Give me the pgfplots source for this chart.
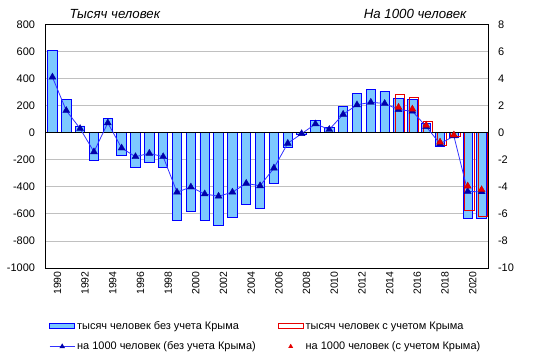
\documentclass[border=0pt]{standalone}
\usepackage{pgfplots}
\pgfplotsset{compat=1.18}
\usepackage{pgfplotstable}
\usepackage{fontspec}
\setmainfont{Liberation Sans}
\definecolor{barfill}{RGB}{125,200,255}
\definecolor{barline}{RGB}{0,0,255}
\definecolor{linec}{RGB}{50,50,255}
\definecolor{markb}{RGB}{0,0,170}
\definecolor{redc}{RGB}{230,0,0}
\definecolor{gridc}{RGB}{192,192,192}

\pgfplotsset{
  midmarklegend/.style={legend image code/.code={\draw[mark repeat=2, mark phase=2, ##1] plot coordinates {(0bp,0bp) (12.5bp,0bp) (25bp,0bp)};}},
  bluebarlegend/.style={legend image code/.code={\draw[fill=barfill, draw=barline, line width=0.9bp] (0bp,-2.5bp) rectangle (25bp,2.5bp);}},
  redbarlegend/.style={legend image code/.code={\draw[fill=white, draw=redc, line width=0.9bp] (0bp,-2.5bp) rectangle (25bp,2.5bp);}},
}

\pgfplotstableread{
year k rate
1990 605 4.10
1991 244 1.63
1992 49 0.30
1993 -207 -1.42
1994 102 0.72
1995 -170 -1.14
1996 -259 -1.78
1997 -222 -1.53
1998 -259 -1.78
1999 -649 -4.40
2000 -583 -4.02
2001 -649 -4.53
2002 -689 -4.70
2003 -630 -4.40
2004 -533 -3.75
2005 -563 -3.93
2006 -373 -2.62
2007 -112 -0.79
2008 -10 -0.08
2009 91 0.64
2010 36 0.23
2011 190 1.35
2012 290 2.05
2013 322 2.24
2014 307 2.15
2015 252 1.70
2016 242 1.58
2017 67 0.44
2018 -101 -0.83
2019 -35 -0.25
2020 -632 -4.35
2021 -632 -4.37
}\bluedata

\pgfplotstableread{
year k rate
2015 280 1.87
2016 258 1.74
2017 80 0.54
2018 -93 -0.70
2019 -28 -0.18
2020 -575 -3.95
2021 -617 -4.22
}\reddata

\begin{document}
\begin{tikzpicture}
\useasboundingbox (-45.5bp,-92bp) rectangle (489.5bp,268bp);
\pgfplotsset{
  common/.style={
    scale only axis, width=443bp, height=243.7bp,
    xmin=1989.5, xmax=2021.5,
    major tick length=0pt,
    /pgf/number format/assume math mode=true,
    /pgf/number format/1000 sep={},
    tick label style={font=\fontsize{11}{13}\selectfont},
    axis line style={black, line width=0.8bp},
  }
}
\begin{axis}[common,
  ymin=-1000, ymax=800,
  ytick={-1000,-800,...,800},
  ymajorgrids, grid style={gridc, line width=0.8bp},
  yticklabel pos=left,
  yticklabel style={xshift=-7bp},
  xtick={1990,1992,...,2020},
  xticklabel pos=bottom,
  xticklabel style={rotate=90, anchor=east, font=\fontsize{10.5}{12}\selectfont, yshift=-5bp},
]
\addplot[ybar, bar width=0.68, bar shift=0, fill=barfill, draw=barline, line width=0.9bp, forget plot] table[x=year, y=k] {\bluedata};
\addplot[ybar, bar width=0.68, bar shift=0.12, fill=none, draw=redc, line width=0.9bp, forget plot] table[x=year, y=k] {\reddata};
\draw[black, line width=0.9bp] (axis cs:1989.5,0) -- (axis cs:2021.5,0);
\end{axis}
\begin{axis}[common,
  ymin=-10, ymax=8,
  ytick={-10,-8,...,8},
  axis y line*=right,
  axis x line=none,
  yticklabel style={xshift=6bp},
  legend columns=2,
  legend cell align=left,
  legend style={draw=none, fill=none, at={(0.0013,-0.2014)}, anchor=north west,
    font=\fontsize{11}{13}\selectfont, row sep=7bp,
    /tikz/every even column/.append style={column sep=20bp}},
]
\addplot[linec, line width=0.8bp, mark=triangle*, mark size=4bp, mark options={draw=markb, fill=markb, line width=0.4bp}, forget plot] table[x=year, y=rate] {\bluedata};
\addplot[only marks, mark=triangle*, mark size=4bp, mark options={draw=redc!85!black, fill=redc, line width=0.4bp}, forget plot] table[x=year, y=rate] {\reddata};

\addlegendimage{bluebarlegend}
\addlegendentry{тысяч человек без учета Крыма}
\addlegendimage{redbarlegend}
\addlegendentry{тысяч человек с учетом Крыма}
\addlegendimage{linec, line width=0.8bp, mark=triangle*, mark size=2.4bp, mark options={draw=markb, fill=markb}, midmarklegend}
\addlegendentry{на 1000 человек (без учета Крыма)}
\addlegendimage{only marks, mark=triangle*, mark size=2.4bp, mark options={draw=redc, fill=redc}, midmarklegend}
\addlegendentry{на 1000 человек (с учетом Крыма)}
\end{axis}
\node[anchor=base west, font=\fontsize{13.3}{15}\selectfont\itshape] at (20.5bp,249bp) {Тысяч человек};
\node[anchor=base east, font=\fontsize{13.3}{15}\selectfont\itshape] at (424.5bp,249bp) {На 1000 человек};
\end{tikzpicture}
\end{document}
